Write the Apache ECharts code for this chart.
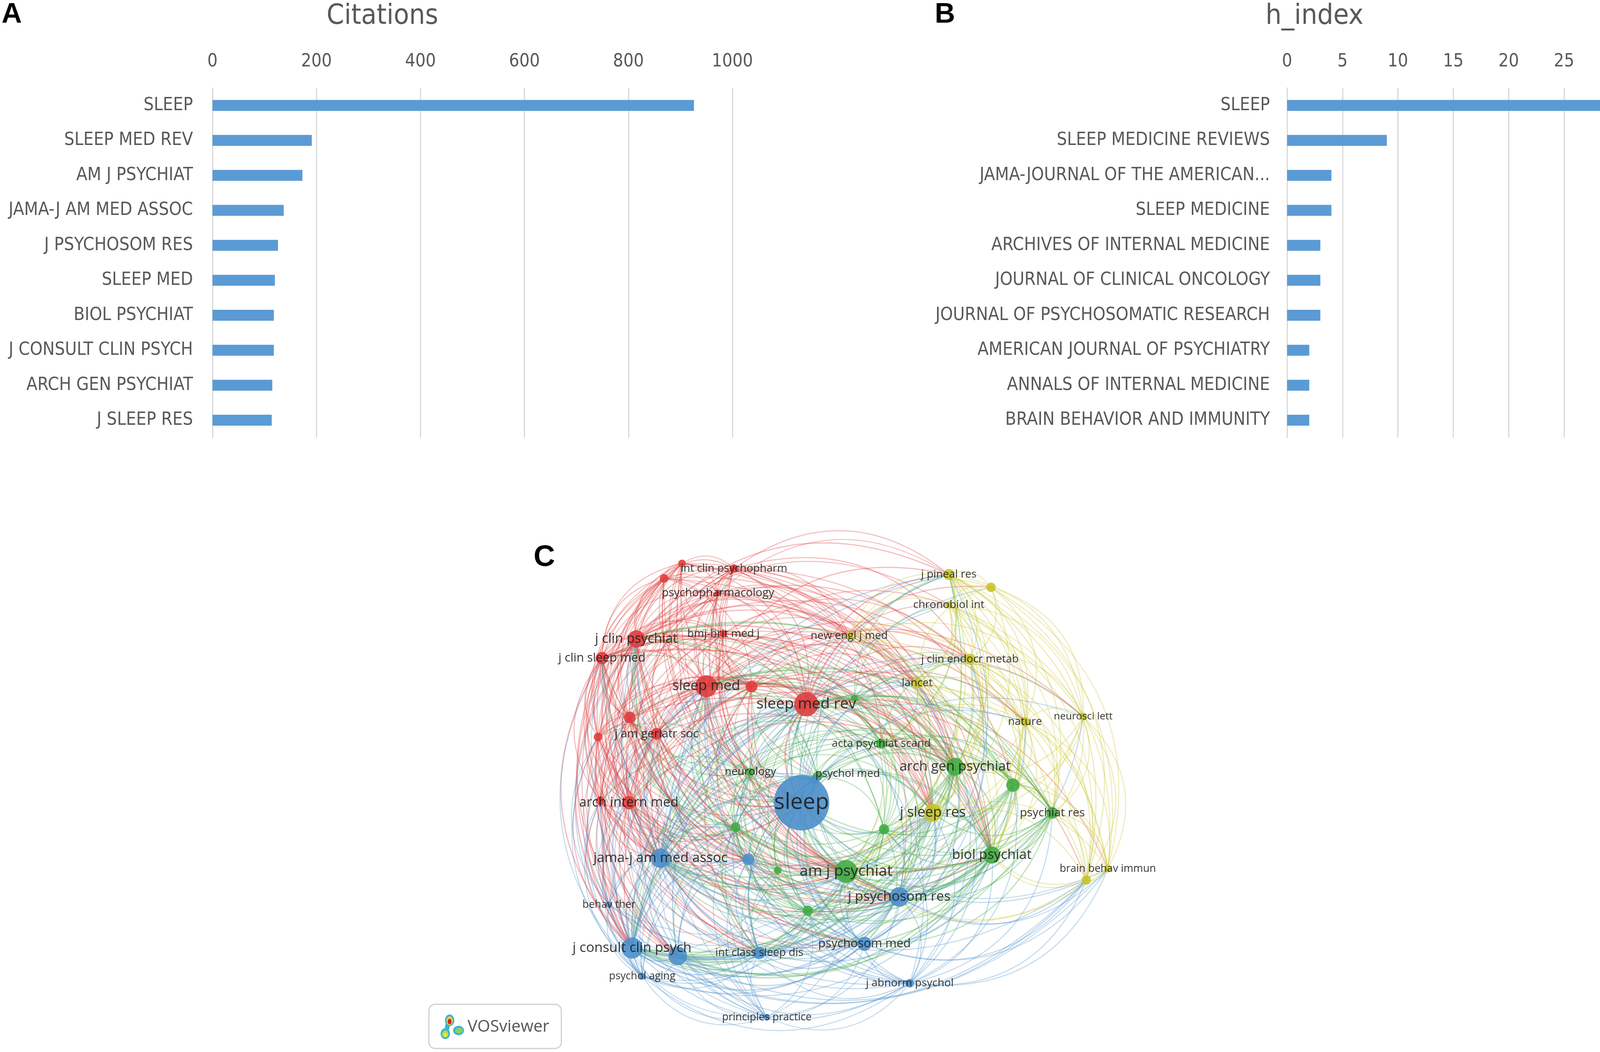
<!DOCTYPE html>
<html>
<head>
<meta charset="utf-8">
<title>Journal citations, h-index and co-citation map</title>
<script src="https://cdn.jsdelivr.net/npm/echarts@6/dist/echarts.min.js"></script>
<style>
  html, body { margin: 0; padding: 0; background: #ffffff; }
  #chart { width: 4317px; height: 2692px; }
</style>
</head>
<body>
<div id="chart"></div>
<script>
// ---- panel A : citations ----
const citeJournals = ["SLEEP", "SLEEP MED REV", "AM J PSYCHIAT", "JAMA-J AM MED ASSOC", "J PSYCHOSOM RES",
  "SLEEP MED", "BIOL PSYCHIAT", "J CONSULT CLIN PSYCH", "ARCH GEN PSYCHIAT", "J SLEEP RES"];
const citeValues = [926, 191, 173, 137, 126, 120, 118, 118, 115, 114];
const citeTicks = [0, 200, 400, 600, 800, 1000];

// ---- panel B : h_index ----
const hJournals = ["SLEEP", "SLEEP MEDICINE REVIEWS", "JAMA-JOURNAL OF THE AMERICAN...", "SLEEP MEDICINE",
  "ARCHIVES OF INTERNAL MEDICINE", "JOURNAL OF CLINICAL ONCOLOGY", "JOURNAL OF PSYCHOSOMATIC RESEARCH",
  "AMERICAN JOURNAL OF PSYCHIATRY", "ANNALS OF INTERNAL MEDICINE", "BRAIN BEHAVIOR AND IMMUNITY"];
const hValues = [31, 9, 4, 4, 3, 3, 3, 2, 2, 2];
const hTicks = [0, 5, 10, 15, 20, 25, 30, 35];

// ---- panel C : co-citation network (map coordinates) ----
// clusters: 0 red, 1 green, 2 blue, 3 yellow
const nodeLabels = [
  "int clin psychopharm", "", "", "psychopharmacology", "bmj-brit med j", "j clin psychiat", "j clin sleep med",
  "sleep med", "", "sleep med rev", "", "j am geriatr soc", "", "", "arch intern med",
  "acta psychiat scand", "", "neurology", "psychol med", "arch gen psychiat", "", "psychiat res",
  "biol psychiat", "", "am j psychiat", "", "", "",
  "sleep", "", "jama-j am med assoc", "", "behav ther", "j consult clin psych", "", "psychol aging",
  "int class sleep dis", "principles practice", "psychosom med", "j psychosom res", "j abnorm psychol",
  "j pineal res", "", "chronobiol int", "new engl j med", "j clin endocr metab", "lancet", "nature",
  "neurosci lett", "j sleep res", "", "brain behav immun"
];
const nodeX = [
  1879, 1746, 1700, 1838, 1852, 1629, 1541, 1808, 1924, 2064, 1612, 1681, 1531, 1537, 1610,
  2256, 2187, 1921, 2093, 2445, 2593, 2694, 2539, 2263, 2166, 1883, 1991, 2068,
  2052, 2086, 1691, 1916, 1559, 1618, 1735, 1644, 1944, 1963, 2213, 2302, 2329,
  2429, 2537, 2429, 2174, 2483, 2348, 2624, 2773, 2388, 2781, 2836
];
const nodeY = [
  1455, 1442, 1480, 1518, 1622, 1635, 1684, 1756, 1757, 1802, 1836, 1878, 1886, 2049, 2054,
  1903, 1787, 1975, 1987, 1962, 2009, 2080, 2188, 2122, 2230, 2117, 2227, 2330,
  2054, 1995, 2196, 2199, 2315, 2426, 2446, 2498, 2438, 2603, 2415, 2295, 2516,
  1470, 1503, 1548, 1627, 1687, 1748, 1847, 1834, 2080, 2252, 2223
];
const nodeSize = [
  22, 20, 22, 16, 19, 44, 32, 56, 30, 62, 30, 30, 22, 22, 34,
  26, 18, 20, 24, 46, 34, 30, 44, 26, 58, 25, 20, 26,
  142, 24, 50, 30, 16, 54, 48, 18, 32, 16, 36, 50, 22,
  28, 24, 18, 20, 28, 28, 24, 20, 46, 24, 19
];
const nodeCluster = [
  0, 0, 0, 0, 0, 0, 0, 0, 0, 0, 0, 0, 0, 0, 0,
  1, 1, 1, 1, 1, 1, 1, 1, 1, 1, 1, 1, 1,
  2, 2, 2, 2, 2, 2, 2, 2, 2, 2, 2, 2, 2,
  3, 3, 3, 3, 3, 3, 3, 3, 3, 3, 3
];
const nodeFont = [
  28, 0, 0, 29, 28, 34, 31, 36, 0, 39, 0, 30, 0, 0, 34,
  28, 0, 28, 28, 35, 0, 30, 35, 0, 39, 0, 0, 0,
  57, 0, 35, 0, 27, 35, 0, 27, 28, 27, 31, 35, 28,
  28, 0, 28, 28, 28, 28, 28, 26, 36, 0, 27
];
// links: for node i, the higher-numbered nodes it is linked to
const linkTargets = [
  "1 2 3 4 5 6 7 8 9 10 11 14 15 17 18 19 20 22 24 28 30 33 39 41 44 45 49",
  "2 3 4 5 6 7 8 9 10 11 12 14 17 19 22 24 28 30 33 39 49",
  "3 4 5 6 7 8 9 10 11 12 13 14 19 22 24 28 30 33 39",
  "4 5 6 7 8 9 10 11 12 14 17 19 22 24 28 30 33 39 41 44 46 49",
  "5 6 7 8 9 10 11 12 13 14 17 19 22 24 28 30 33 39 44 45 46 49",
  "6 7 8 9 10 11 12 13 14 15 17 18 19 20 21 22 23 24 25 26 27 28 29 30 31 33 34 35 36 37 38 39 40 41 43 44 45 46 47 49",
  "7 8 9 10 11 12 13 14 15 17 18 19 22 24 25 28 30 31 33 34 35 36 37 38 39 40 44 46 49",
  "8 9 10 11 12 13 14 15 16 17 18 19 20 21 22 23 24 25 26 27 28 29 30 31 32 33 34 35 36 37 38 39 40 41 43 44 45 46 47 48 49",
  "9 10 11 12 13 14 15 16 17 18 19 22 24 25 28 30 31 33 36 39 44 45 46 49",
  "10 11 12 13 14 15 16 17 18 19 20 21 22 23 24 25 26 27 28 29 30 31 32 33 34 35 36 37 38 39 40 41 42 43 44 45 46 47 48 49 50 51",
  "11 12 13 14 15 17 19 22 24 25 28 30 31 32 33 34 35 36 38 39 49",
  "12 13 14 15 17 19 22 24 25 28 30 31 32 33 34 35 36 38 39 44 49",
  "13 14 17 19 24 25 28 30 31 32 33 34 35 36 39",
  "14 17 19 24 25 28 30 31 32 33 34 35 36 37 38 39",
  "15 17 19 22 24 25 27 28 30 31 32 33 34 35 36 37 38 39 40 44 46 49",
  "16 17 18 19 20 21 22 23 24 25 27 28 30 33 38 39 41 43 45 46 47 49",
  "19 20 21 22 23 24 25 28 30 33 39 41 43 45 46 47 48 49",
  "19 20 21 22 23 24 25 26 27 28 30 31 33 36 38 39 44 49",
  "19 20 21 22 23 24 25 26 27 28 30 33 36 38 39 41 49",
  "20 21 22 23 24 25 26 27 28 29 30 31 33 34 36 38 39 40 41 43 45 46 47 48 49 50 51",
  "21 22 23 24 25 27 28 30 33 38 39 40 41 43 45 46 47 48 49 50 51",
  "22 23 24 25 27 28 30 33 38 39 40 41 43 45 46 47 48 49 50 51",
  "23 24 25 26 27 28 29 30 31 33 34 35 36 38 39 40 41 43 44 45 46 47 48 49 50 51",
  "24 25 27 28 30 33 34 36 38 39 40 45 46 49",
  "25 26 27 28 29 30 31 32 33 34 35 36 37 38 39 40 41 43 44 45 46 47 48 49 50 51",
  "26 27 28 29 30 31 32 33 34 35 36 37 38 39 40 49",
  "27 28 29 30 31 33 34 36 38 39",
  "28 29 30 31 32 33 34 35 36 37 38 39 40 41 49",
  "29 30 31 32 33 34 35 36 37 38 39 40 41 42 43 44 45 46 47 48 49 50 51",
  "30 31 33 36 38 39 49",
  "31 32 33 34 35 36 37 38 39 40 41 44 45 46 47 49 50",
  "33 34 35 36 37 38 39 40 49",
  "33 34 35 36 37 39",
  "34 35 36 37 38 39 40 41 45 46 49 50 51",
  "35 36 37 38 39 40 49 50",
  "36 37 39 40",
  "37 38 39 40 49",
  "38 39 40",
  "39 40 45 49 50 51",
  "40 41 45 46 47 48 49 50 51",
  "46 49 50 51",
  "42 43 44 45 46 47 48 49 50 51",
  "43 44 45 46 47 48 49 50 51",
  "44 45 46 47 48 49 50 51",
  "45 46 47 48 49 50 51",
  "46 47 48 49 50",
  "47 49 51",
  "48 49 50 51",
  "49 50 51",
  "50 51",
  "51",
  ""
];

const BAR_FONT = "'Liberation Sans Narrow', 'DejaVu Sans Condensed', 'Arial Narrow', sans-serif";
const MAP_FONT = "'Open Sans', 'Noto Sans', sans-serif";
const CLUSTER_COLORS = ["#df3d3d", "#43ab43", "#4d8fca", "#c6c42c"];
// which cluster colours a link between two clusters (-1: the smaller journal decides)
const LINK_OWNER = [
  [0, -1, -1, 0],
  [-1, 1, -1, -1],
  [-1, -1, 2, 2],
  [0, -1, 2, 3]
];
const CURVE = 0.38;
const MAP_MID = [2150, 2040];

function nodeId(i) {
  return "n" + i;
}

// nodes of the map, big ones drawn first so the small ones stay visible
let mapNodes = nodeLabels.map(function (label, i) {
  return {
    name: nodeId(i),
    value: [nodeX[i], nodeY[i]],
    symbolSize: nodeSize[i],
    itemStyle: { color: CLUSTER_COLORS[nodeCluster[i]] },
    label: {
      show: label !== "",
      formatter: label,
      fontSize: nodeFont[i] || 12,
      offset: i === 18 ? [77, -7] : [0, 0]
    }
  };
});
mapNodes.sort(function (a, b) { return b.symbolSize - a.symbolSize; });

let mapLinks = [];
linkTargets.forEach(function (str, a) {
  str.split(" ").forEach(function (t) {
    if (t === "") return;
    let b = +t;
    let ownerCluster = LINK_OWNER[nodeCluster[a]][nodeCluster[b]];
    if (ownerCluster < 0) {
      ownerCluster = nodeCluster[nodeSize[b] < nodeSize[a] ? b : a];
    }
    // orient the link so that its arc bows away from the middle of the map
    let mx = (nodeX[a] + nodeX[b]) / 2, my = (nodeY[a] + nodeY[b]) / 2;
    let cx = mx - (nodeY[a] - nodeY[b]) * CURVE;
    let cy = my - (nodeX[b] - nodeX[a]) * CURVE;
    let d1 = Math.pow(cx - MAP_MID[0], 2) + Math.pow(cy - MAP_MID[1], 2);
    let d2 = Math.pow(2 * mx - cx - MAP_MID[0], 2) + Math.pow(2 * my - cy - MAP_MID[1], 2);
    let s = d1 >= d2 ? a : b;
    let e = d1 >= d2 ? b : a;
    mapLinks.push({
      source: nodeId(s),
      target: nodeId(e),
      lineStyle: {
        color: CLUSTER_COLORS[ownerCluster],
        width: 1.6 + Math.min(nodeSize[a], nodeSize[b]) / 22
      }
    });
  });
});

function barXAxis(gridIndex, ticks) {
  return {
    gridIndex: gridIndex,
    type: "value",
    position: "top",
    min: ticks[0],
    max: ticks[ticks.length - 1],
    interval: ticks[1] - ticks[0],
    axisLine: { show: false },
    axisTick: { show: false },
    axisLabel: {
      fontSize: 46, color: "#595959", margin: 44, fontFamily: BAR_FONT,
      formatter: function (v) { return String(v); }
    },
    splitLine: { show: true, lineStyle: { color: "#d9d9d9", width: 3 } }
  };
}

function barYAxis(gridIndex, names, margin) {
  return {
    gridIndex: gridIndex,
    type: "category",
    data: names,
    inverse: true,
    axisLine: { show: true, lineStyle: { color: "#d9d9d9", width: 3 } },
    axisTick: { show: false },
    axisLabel: { fontSize: 46, color: "#595959", margin: margin, fontFamily: BAR_FONT }
  };
}

function panelLetter(text, x, y, size) {
  return {
    type: "text", x: x, y: y,
    style: { text: text, fontSize: size, fontWeight: "bold", fontFamily: "'Liberation Sans', Arial, sans-serif",
      fill: "#000000", align: "left", verticalAlign: "middle" }
  };
}

function chartTitle(text, x) {
  return {
    type: "text", x: x, y: 42,
    style: { text: text, fontSize: 72, fontFamily: BAR_FONT, fill: "#595959", align: "center", verticalAlign: "middle" }
  };
}

let chart = echarts.init(document.getElementById("chart"), null, { renderer: "canvas" });

let option = {
  backgroundColor: "#ffffff",
  animation: false,
  grid: [
    { left: 544, top: 225, width: 1331, height: 895 },
    { left: 3295, top: 225, width: 998, height: 895 },
    { left: 0, top: 0, width: 4317, height: 2692 }
  ],
  xAxis: [
    barXAxis(0, citeTicks),
    barXAxis(1, hTicks),
    { gridIndex: 2, type: "value", min: 0, max: 4317, show: false }
  ],
  yAxis: [
    barYAxis(0, citeJournals, 50),
    barYAxis(1, hJournals, 44),
    { gridIndex: 2, type: "value", min: 0, max: 2692, inverse: true, show: false }
  ],
  series: [
    {
      type: "bar", xAxisIndex: 0, yAxisIndex: 0, data: citeValues,
      barWidth: 28, itemStyle: { color: "#5b9bd5" }, silent: true
    },
    {
      type: "bar", xAxisIndex: 1, yAxisIndex: 1, data: hValues,
      barWidth: 28, itemStyle: { color: "#5b9bd5" }, silent: true
    },
    {
      type: "graph",
      coordinateSystem: "cartesian2d",
      xAxisIndex: 2,
      yAxisIndex: 2,
      data: mapNodes,
      links: mapLinks,
      symbol: "circle",
      silent: true,
      itemStyle: { opacity: 0.9 },
      lineStyle: { opacity: 0.34, curveness: CURVE },
      label: { show: true, position: "inside", color: "#1e1e1e", fontFamily: MAP_FONT },
      emphasis: { disabled: true }
    }
  ],
  graphic: [
    panelLetter("A", 4, 38, 72),
    panelLetter("B", 2393, 38, 72),
    panelLetter("C", 1366, 1427, 76),
    chartTitle("Citations", 979),
    chartTitle("h_index", 3365),
    {
      type: "group",
      children: [
        { type: "rect", shape: { x: 1098, y: 2570, width: 339, height: 113, r: 16 },
          style: { fill: "#ffffff", stroke: "#cfcfcf", lineWidth: 3 } },
        // little heat-map logo
        { type: "ellipse", shape: { cx: 1151, cy: 2611, rx: 12, ry: 15 }, style: { fill: "#3cb4d2" } },
        { type: "ellipse", shape: { cx: 1140, cy: 2645, rx: 12, ry: 14 }, style: { fill: "#3cb4d2" } },
        { type: "ellipse", shape: { cx: 1174, cy: 2637, rx: 14, ry: 12 }, style: { fill: "#3cb4d2" } },
        { type: "ellipse", shape: { cx: 1145, cy: 2628, rx: 6, ry: 10 }, style: { fill: "#3cb4d2" } },
        { type: "ellipse", shape: { cx: 1151, cy: 2612, rx: 8, ry: 11 }, style: { fill: "#f3d232" } },
        { type: "ellipse", shape: { cx: 1151, cy: 2614, rx: 5, ry: 7 }, style: { fill: "#d8201e" } },
        { type: "ellipse", shape: { cx: 1140, cy: 2646, rx: 8, ry: 9 }, style: { fill: "#b8dc46" } },
        { type: "ellipse", shape: { cx: 1140, cy: 2648, rx: 5, ry: 5 }, style: { fill: "#f3e23a" } },
        { type: "ellipse", shape: { cx: 1175, cy: 2637, rx: 10, ry: 7 }, style: { fill: "#8fd15a" } },
        { type: "text", x: 1197, y: 2628,
          style: { text: "VOSviewer", fontSize: 42, fontFamily: MAP_FONT, fill: "#555555", align: "left", verticalAlign: "middle" } }
      ]
    }
  ]
};

chart.setOption(option);
</script>
</body>
</html>
